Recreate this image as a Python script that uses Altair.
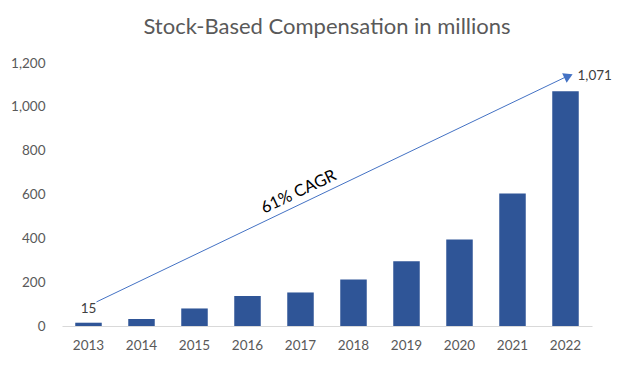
import altair as alt
import pandas as pd

years = ["2013", "2014", "2015", "2016", "2017", "2018", "2019", "2020", "2021", "2022"]
sbc = [15, 32, 80, 137, 153, 212, 296, 395, 605, 1071]
y_ticks = [0, 200, 400, 600, 800, 1000, 1200]

# arrow annotation (start / end in data units)
arrow_years = ["2013", "2022"]
arrow_vals = [110, 1140]
cagr_label = "61% CAGR"
cagr_year = "2017"
cagr_val = 616

FONT = "Lato"
df = pd.DataFrame({"year": years, "value": sbc})

xscale = alt.Scale(domain=years, paddingInner=0.5, paddingOuter=0.25)
x = alt.X("year:N", scale=xscale, title=None,
          axis=alt.Axis(labelAngle=0, ticks=False, domainColor="#D9D9D9", domainWidth=1,
                        labelColor="#595959", labelFontSize=13.5, labelFont=FONT, labelPadding=12))
y = alt.Y("value:Q", title=None,
          scale=alt.Scale(domain=[0, 1200], nice=False),
          axis=alt.Axis(values=y_ticks, format=",.0f", grid=False, domain=False, ticks=False,
                        labelColor="#595959", labelFontSize=13.5, labelFont=FONT, labelPadding=17))
xs = alt.X("year:N", scale=xscale)

bars = alt.Chart(df).mark_bar(color="#2F5597").encode(x=x, y=y)

first_lab = alt.Chart(pd.DataFrame({"year": [years[0]], "value": [sbc[0]], "t": [str(sbc[0])]})).mark_text(
    dy=-14, fontSize=13.5, font=FONT, color="#404040").encode(x=xs, y="value:Q", text="t:N")

last_lab = alt.Chart(pd.DataFrame({"year": [years[-1]], "value": [arrow_vals[1]], "t": [f"{sbc[-1]:,}"]})).mark_text(
    align="left", dx=12, fontSize=13.5, font=FONT, color="#404040").encode(
    x=xs, y="value:Q", text="t:N")

arrow_df = pd.DataFrame({"year": [arrow_years[0]], "value": [arrow_vals[0]],
                         "year2": [arrow_years[1]], "value2": [arrow_vals[1]]})
arrow_line = alt.Chart(arrow_df).mark_rule(color="#4472C4", strokeWidth=1, xOffset=8, x2Offset=2).encode(
    x=xs, y="value:Q", x2="year2:N", y2="value2:Q")

head = alt.Chart(pd.DataFrame({"year": [arrow_years[1]], "value": [arrow_vals[1]]})).mark_point(
    shape="triangle-right", filled=True, color="#4472C4", opacity=1, size=110, angle=334.6, xOffset=3).encode(
    x=xs, y="value:Q")

cagr = alt.Chart(pd.DataFrame({"year": [cagr_year], "value": [cagr_val], "t": [cagr_label]})).mark_text(
    angle=334.6, fontSize=16.5, font=FONT, color="#000000", dx=-2).encode(
    x=xs, y="value:Q", text="t:N")

chart = alt.layer(bars, arrow_line, head, first_lab, last_lab, cagr).properties(
    width=530, height=263,
    title=alt.TitleParams("Stock-Based Compensation in millions", fontSize=22, font=FONT,
                          color="#595959", fontWeight="normal", offset=17),
    autosize=alt.AutoSizeParams(type="none"),
    padding={"left": 54, "top": 55, "right": 40, "bottom": 32},
    background="white",
).configure_view(stroke=None)

chart.save("out.html", embed_options={"renderer": "svg", "actions": False})
